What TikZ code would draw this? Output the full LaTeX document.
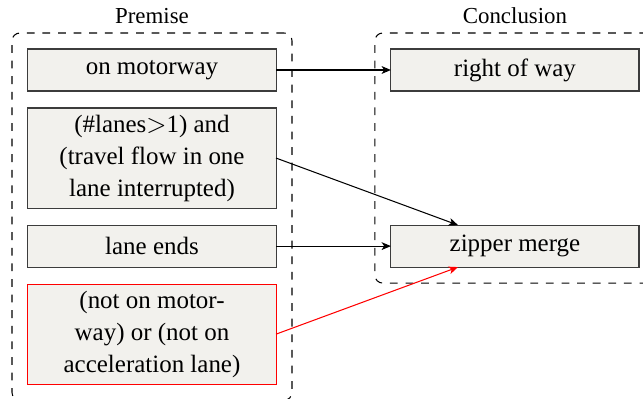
\documentclass[tikz,border=0pt]{standalone}
\usepackage{fontspec}
\setmainfont{Liberation Serif}
\usetikzlibrary{positioning,fit,arrows.meta}

\definecolor{boxfill}{RGB}{242,241,237}
\definecolor{boxline}{RGB}{60,60,60}

\def\boxgap{6.54pt}
\def\colgap{44.2pt}

\tikzset{
  rulebox/.style={draw=boxline, fill=boxfill, minimum width=95.4pt,
    minimum height=16.15pt, inner sep=0pt, outer sep=0pt, align=center,
    font=\fontsize{9.6}{12.3}\selectfont},
  tallbox/.style={minimum height=38.5pt},
  falsebox/.style={draw=red},
  group/.style={draw, dashed, rounded corners=3pt, inner sep=6.15pt},
  grouplabel/.style={font=\fontsize{8.8}{10}\selectfont},
  implies/.style={-{Stealth[length=3.6pt,width=3pt,inset=1pt]}}
}

\begin{document}
\begin{tikzpicture}
  \useasboundingbox (0,0) rectangle (247.3pt,-153.1pt);
  % premise side
  \node[rulebox] (motorway) at (58.46pt,-26.92pt) {on motorway};
  \node[rulebox, tallbox, below=\boxgap of motorway] (flow)
    {(\#lanes$>$1) and\\(travel flow in one\\lane interrupted)};
  \node[rulebox, below=\boxgap of flow] (laneends) {lane ends};
  \node[rulebox, tallbox, falsebox, below=\boxgap of laneends] (notaccel)
    {(not on motor-\\way) or (not on\\acceleration lane)};
  % conclusion side
  \node[rulebox, right=\colgap of motorway] (rightofway) {right of way};
  \node[rulebox, right=\colgap of laneends] (zipper) {zipper merge};
  % groups
  \node[group, fit=(motorway)(notaccel),
    label={[grouplabel]above:Premise}] (premise) {};
  \node[group, fit=(rightofway)(zipper),
    label={[grouplabel]above:Conclusion}] (conclusion) {};
  % rules
  \draw[implies] (motorway) -- (rightofway);
  \draw[implies] (flow.east) -- (zipper);
  \draw[implies] (laneends) -- (zipper);
  \draw[implies, red] (notaccel.east) -- (zipper);
\end{tikzpicture}
\end{document}
